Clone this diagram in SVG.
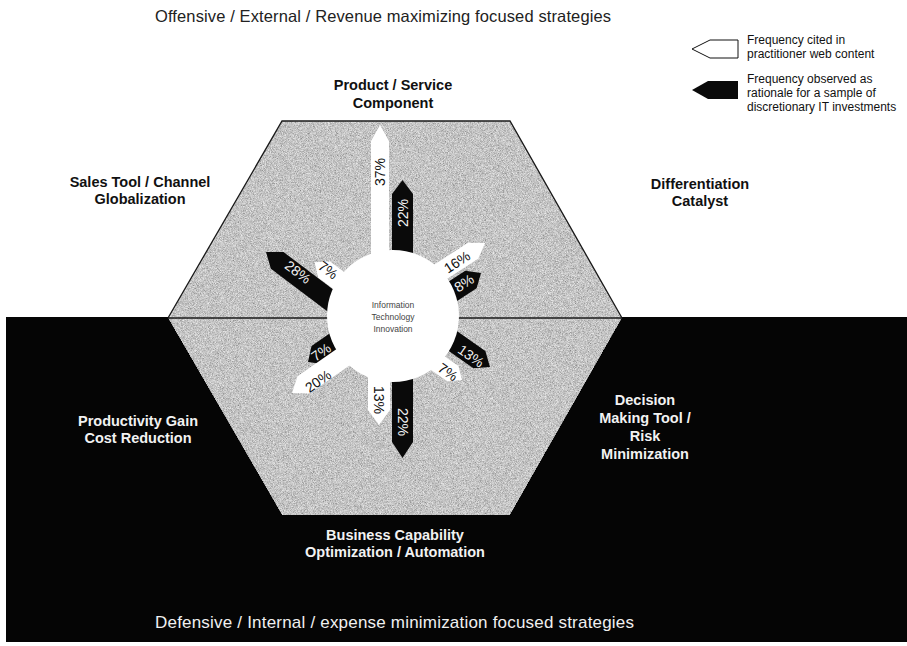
<svg xmlns="http://www.w3.org/2000/svg" width="907" height="646" viewBox="0 0 907 646">
<defs>
<filter id="grain" x="0" y="0" width="100%" height="100%">
<feTurbulence type="fractalNoise" baseFrequency="1.4" numOctaves="2" seed="5" result="n"/>
<feColorMatrix in="n" type="matrix" values="1 0 0 0 0  1 0 0 0 0  1 0 0 0 0  0 0 0 0 1" result="g"/>
<feComposite in="g" in2="SourceGraphic" operator="in" result="gc"/>
<feComposite in="SourceGraphic" in2="gc" operator="arithmetic" k1="0" k2="1" k3="0.8" k4="-0.4"/>
</filter>
</defs>
<style>
.t{font-family:"Liberation Sans",Arial,sans-serif;}
.lbl{font-family:"Liberation Sans",Arial,sans-serif;font-weight:bold;font-size:14.5px;text-anchor:middle;fill:#111;}
.lblw{font-family:"Liberation Sans",Arial,sans-serif;font-weight:bold;font-size:14.5px;text-anchor:middle;fill:#f2f2f2;}
.pct{font-family:"Liberation Sans",Arial,sans-serif;font-size:14px;text-anchor:middle;dominant-baseline:central;}
.pw{fill:#111;}
.pb{fill:#f4f4f4;}
.wa{fill:#ffffff;}
.ba{fill:#0a0a0a;}
.leg{font-family:"Liberation Sans",Arial,sans-serif;font-size:12px;fill:#111;}
</style>
<rect x="0" y="0" width="907" height="646" fill="#ffffff"/>
<g id="background">
<rect x="6" y="317" width="901" height="325" fill="#050505"/>
</g>
<g id="hexagon">
<polygon points="282,121 510,121 622,318 510,515 282,515 168,318" fill="#c4c4c4" filter="url(#grain)"/>
<polyline points="168,318 282,121 510,121 622,318" fill="none" stroke="#1a1a1a" stroke-width="1.3"/>
<line x1="168" y1="318" x2="622" y2="318" stroke="#1a1a1a" stroke-width="1.5"/>
</g>
<g id="connectors">
<g id="arrow-w37" transform="translate(380,125) rotate(-90)"><polygon class="wa" points="-140,-9 -16,-9 0,0 -16,9 -140,9"/></g>
<g id="arrow-b22up" transform="translate(402.5,180) rotate(-90)"><polygon class="ba" points="-90,-10.5 -14,-10.5 0,0 -14,10.5 -90,10.5"/></g>
<g id="arrow-w13" transform="translate(379,425) rotate(90)"><polygon class="wa" points="-70,-11 -15,-11 0,0 -15,11 -70,11"/></g>
<g id="arrow-b22dn" transform="translate(402.5,458) rotate(90)"><polygon class="ba" points="-100,-10.5 -16,-10.5 0,0 -16,10.5 -100,10.5"/></g>
<g id="arrow-b28" transform="translate(266,252) rotate(217)"><polygon class="ba" points="-95,-10.5 -14,-10.5 0,0 -14,10.5 -95,10.5"/></g>
<g id="arrow-w7ul" transform="translate(314.6,262.3) rotate(217)"><polygon class="wa" points="-50,-10 -12,-10 0,0 -12,10 -50,10"/></g>
<g id="arrow-w16" transform="translate(485,243) rotate(-33)"><polygon class="wa" points="-80,-9.5 -14,-9.5 0,0 -14,9.5 -80,9.5"/></g>
<g id="arrow-b8" transform="translate(481,273) rotate(-33)"><polygon class="ba" points="-50,-10.5 -12,-10.5 0,0 -12,10.5 -50,10.5"/></g>
<g id="arrow-b13" transform="translate(490,367) rotate(35)"><polygon class="ba" points="-60,-10.5 -13,-10.5 0,0 -13,10.5 -60,10.5"/></g>
<g id="arrow-w7dr" transform="translate(462,380) rotate(35)"><polygon class="wa" points="-40,-9.5 -11,-9.5 0,0 -11,9.5 -40,9.5"/></g>
<g id="arrow-b7dl" transform="translate(308,362) rotate(145)"><polygon class="ba" points="-52,-11 -12,-11 0,0 -12,11 -52,11"/></g>
<g id="arrow-w20" transform="translate(292,393) rotate(145)"><polygon class="wa" points="-75,-10.5 -14,-10.5 0,0 -14,10.5 -75,10.5"/></g>
</g>
<g id="center">
<circle cx="393" cy="316" r="66" fill="#ffffff"/>
<text class="t" x="393" y="308" font-size="8.5" fill="#444" text-anchor="middle">Information</text>
<text class="t" x="393" y="320" font-size="8.5" fill="#444" text-anchor="middle">Technology</text>
<text class="t" x="393" y="332" font-size="8.5" fill="#444" text-anchor="middle">Innovation</text>
</g>
<g id="percent-labels">
<text class="pct pw" transform="translate(380,172) rotate(-90)">37%</text>
<text class="pct pb" transform="translate(402.5,213) rotate(-90)">22%</text>
<text class="pct pw" transform="translate(379,400) rotate(90)">13%</text>
<text class="pct pb" transform="translate(403,422) rotate(90)">22%</text>
<text class="pct pb" transform="translate(298,272) rotate(37)">28%</text>
<text class="pct pw" transform="translate(328,270) rotate(37)">7%</text>
<text class="pct pw" transform="translate(457,262) rotate(-33)">16%</text>
<text class="pct pb" transform="translate(464,283) rotate(-33)">8%</text>
<text class="pct pb" transform="translate(471,356) rotate(35)">13%</text>
<text class="pct pw" transform="translate(448,372) rotate(35)">7%</text>
<text class="pct pb" transform="translate(321,352) rotate(-35)">7%</text>
<text class="pct pw" transform="translate(318,381) rotate(-35)">20%</text>
</g>
<g id="titles">
<text class="t" x="155" y="22" font-size="16.5" fill="#222" textLength="456">Offensive / External / Revenue maximizing focused strategies</text>
<text class="t" x="155" y="628" font-size="17" fill="#f0f0f0" textLength="479">Defensive / Internal / expense minimization focused strategies</text>
</g>
<g id="node-product">
<text class="lbl" x="393" y="90">Product / Service</text>
<text class="lbl" x="393" y="108">Component</text>
</g>
<g id="node-sales">
<text class="lbl" x="140" y="187">Sales Tool / Channel</text>
<text class="lbl" x="140" y="204">Globalization</text>
</g>
<g id="node-differentiation">
<text class="lbl" x="700" y="189">Differentiation</text>
<text class="lbl" x="700" y="206">Catalyst</text>
</g>
<g id="node-productivity">
<text class="lblw" x="138" y="426">Productivity Gain</text>
<text class="lblw" x="138" y="443">Cost Reduction</text>
</g>
<g id="node-decision">
<text class="lblw" x="645" y="405">Decision</text>
<text class="lblw" x="645" y="423">Making Tool /</text>
<text class="lblw" x="645" y="441">Risk</text>
<text class="lblw" x="645" y="459">Minimization</text>
</g>
<g id="node-business">
<text class="lblw" x="395" y="540">Business Capability</text>
<text class="lblw" x="395" y="557">Optimization / Automation</text>
</g>
<g id="legend">
<polygon points="692,49 710,40 738,40 738,58 710,58" fill="#ffffff" stroke="#111" stroke-width="1"/>
<polygon points="692,90 708,81 738,81 738,99 708,99" fill="#0a0a0a"/>
<text class="leg" x="747" y="44">Frequency cited in</text>
<text class="leg" x="747" y="58">practitioner web content</text>
<text class="leg" x="747" y="83">Frequency observed as</text>
<text class="leg" x="747" y="97">rationale for a sample of</text>
<text class="leg" x="747" y="111">discretionary IT investments</text>
</g>
</svg>
